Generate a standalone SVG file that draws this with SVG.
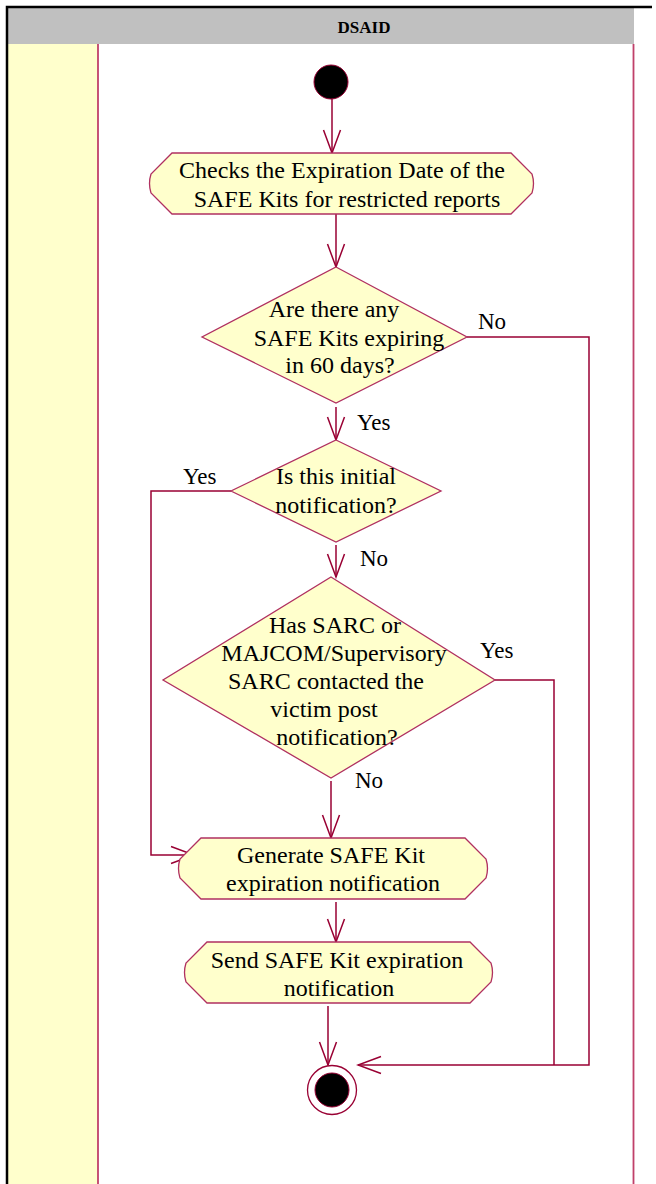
<svg xmlns="http://www.w3.org/2000/svg" width="656" height="1184" viewBox="0 0 656 1184">
<defs>
<style>
.t{font-family:"Liberation Serif","Times New Roman",serif;font-size:24px;fill:#000;text-anchor:middle}
.lb{font-family:"Liberation Serif","Times New Roman",serif;font-size:23px;fill:#000}
.node{fill:#ffffcc;stroke:#b03060;stroke-width:1.3}
.c{fill:none;stroke:#990033;stroke-width:1.5}
.lane{stroke:#c0406a;stroke-width:1.8;fill:none}
</style>
<marker id="ah" viewBox="-24 -10 26 20" refX="0" refY="0" markerWidth="26" markerHeight="20" markerUnits="userSpaceOnUse" orient="auto">
<path d="M -23 -8.5 L 0 0 L -23 8.5" fill="none" stroke="#990033" stroke-width="1.5"/>
</marker>
</defs>
<rect x="0" y="0" width="656" height="1184" fill="#ffffff"/>
<g id="lane">
<rect x="7" y="7" width="627" height="37" fill="#c0c0c0"/>
<rect x="7" y="44" width="91" height="1140" fill="#ffffcc"/>
<line class="lane" x1="98" y1="44" x2="98" y2="1184"/>
<line class="lane" x1="633.5" y1="44" x2="633.5" y2="1184"/>
<path d="M 7 1184 V 7 H 652" fill="none" stroke="#000" stroke-width="2.5"/>
<text x="364" y="33" font-family="Liberation Serif,'Times New Roman',serif" font-size="17" font-weight="bold" text-anchor="middle">DSAID</text>
</g>
<g id="connectors">
<path class="c" d="M 332 99 V 153" marker-end="url(#ah)"/>
<path class="c" d="M 336 214 V 267" marker-end="url(#ah)"/>
<path class="c" d="M 336 407 V 440" marker-end="url(#ah)"/>
<path class="c" d="M 467 337 H 589 V 1065 H 358" marker-end="url(#ah)"/>
<path class="c" d="M 231 491 H 151 V 855 H 194" marker-end="url(#ah)"/>
<path class="c" d="M 336 545 V 577" marker-end="url(#ah)"/>
<path class="c" d="M 495 680 H 554 V 1065"/>
<path class="c" d="M 331 781 V 838" marker-end="url(#ah)"/>
<path class="c" d="M 336 902 V 942" marker-end="url(#ah)"/>
<path class="c" d="M 328 1006 V 1065" marker-end="url(#ah)"/>
<text class="lb" x="478" y="329">No</text>
<text class="lb" x="357" y="430">Yes</text>
<text class="lb" x="183" y="484">Yes</text>
<text class="lb" x="360" y="566">No</text>
<text class="lb" x="480" y="658">Yes</text>
<text class="lb" x="355" y="788">No</text>
</g>
<g id="start">
<circle cx="331" cy="82" r="17" fill="#000" stroke="#990033" stroke-width="1"/>
</g>
<g id="check">
<path class="node" d="M 172 153 H 511 L 532 174 Q 535 183.5 532 193 L 511 214 H 172 L 151 193 Q 148 183.5 151 174 Z"/>
<text class="t" x="342" y="178">Checks the Expiration Date of the</text>
<text class="t" x="347" y="207">SAFE Kits for restricted reports</text>
</g>
<g id="decision1">
<polygon class="node" points="336,267 467,337 336,403 202,337"/>
<text class="t" x="334" y="317">Are there any</text>
<text class="t" x="349" y="346">SAFE Kits expiring</text>
<text class="t" x="340" y="373">in 60 days?</text>
</g>
<g id="decision2">
<polygon class="node" points="336,440 441,491 336,542 231,491"/>
<text class="t" x="336" y="484">Is this initial</text>
<text class="t" x="336" y="513">notification?</text>
</g>
<g id="decision3">
<polygon class="node" points="331,577 495,680 331,778 163,680"/>
<text class="t" x="335" y="633">Has SARC or</text>
<text class="t" x="334" y="661">MAJCOM/Supervisory</text>
<text class="t" x="326" y="689">SARC contacted the</text>
<text class="t" x="324" y="717">victim post</text>
<text class="t" x="337" y="745">notification?</text>
</g>
<g id="generate">
<path class="node" d="M 201 838 H 465 L 486 859 Q 489 868.5 486 878 L 465 899 H 201 L 180 878 Q 177 868.5 180 859 Z"/>
<text class="t" x="331" y="863">Generate SAFE Kit</text>
<text class="t" x="333" y="891">expiration notification</text>
</g>
<g id="send">
<path class="node" d="M 207 942 H 470 L 491 963 Q 494 972.5 491 982 L 470 1003 H 207 L 186 982 Q 183 972.5 186 963 Z"/>
<text class="t" x="337" y="968">Send SAFE Kit expiration</text>
<text class="t" x="339" y="996">notification</text>
</g>
<g id="end">
<circle cx="332" cy="1090" r="24.5" fill="#ffffff" stroke="#990033" stroke-width="1.3"/>
<circle cx="332" cy="1090" r="17" fill="#000" stroke="#990033" stroke-width="1"/>
</g>
</svg>
